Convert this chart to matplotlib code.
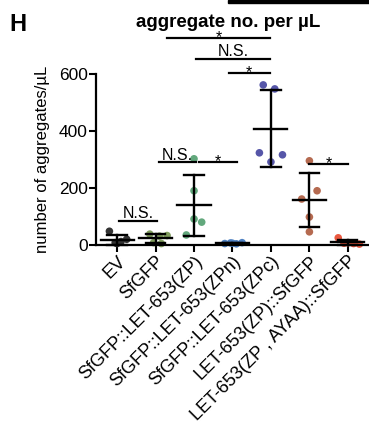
import numpy as np
import matplotlib
matplotlib.use('Agg')
import matplotlib.pyplot as plt
from matplotlib.patches import Rectangle

plt.rcParams['font.family'] = ['Liberation Sans', 'DejaVu Sans']

# groups and values
categories = ['EV', 'SfGFP', 'SfGFP::LET-653(ZP)', 'SfGFP::LET-653(ZPn)',
              'SfGFP::LET-653(ZPc)', 'LET-653(ZP)::SfGFP', 'LET-653(ZP , AYAA)::SfGFP']
colors = ['#333333', '#7f9c5c', '#62a87c', '#4d80c2', '#5656a8', '#b56a50', '#ea5940']

ev = [48, 8, 12, 20, 5]
sfgfp = [38, 31, 33, 8, 5]
zp = [302, 190, 91, 80, 35]
zpn = [5, 7, 4, 8, 6]
zpc = [561, 547, 323, 291, 316]
let_zp = [295, 190, 161, 98, 46]
ayaa = [25, 8, 5, 3, 6]
groups = [ev, sfgfp, zp, zpn, zpc, let_zp, ayaa]

# horizontal scatter of the dots inside each group
jitter = [
    [-0.2, -0.05, 0.1, 0.25, 0.0],
    [-0.15, 0.1, 0.3, -0.05, 0.15],
    [0.0, 0.0, 0.0, 0.2, -0.2],
    [-0.2, -0.05, 0.1, 0.25, 0.0],
    [-0.2, 0.1, -0.3, 0.0, 0.3],
    [0.0, 0.2, -0.2, 0.0, 0.0],
    [-0.25, 0.0, 0.15, 0.3, -0.1],
]

# significance bars: (x start, x end, height, label)
sig = [
    (0.05, 1.05, 85, 'N.S.'),
    (1.08, 2.05, 290, 'N.S.'),
    (2.13, 3.13, 290, '*'),
    (5.0, 6.0, 285, '*'),
    (1.3, 3.97, 726, '*'),
    (2.05, 3.97, 653, 'N.S.'),
    (2.9, 3.97, 604, '*'),
]

fig = plt.figure(figsize=(3.69, 4.29), dpi=100)
ax = fig.add_axes([0.26, 0.429, 0.74, 0.399])

for i, vals in enumerate(groups):
    vals = np.array(vals, dtype=float)
    xs = i + np.array(jitter[i])
    ax.scatter(xs, vals, s=30, color=colors[i], zorder=2, clip_on=False,
               edgecolors='none')
    m = vals.mean()
    sd = vals.std(ddof=1)
    ax.plot([i - 0.43, i + 0.43], [m, m], color='black', lw=1.7, zorder=3,
            clip_on=False)
    ax.plot([i, i], [m - sd, m + sd], color='black', lw=1.7, zorder=3,
            clip_on=False)
    for y in (m - sd, m + sd):
        ax.plot([i - 0.25, i + 0.25], [y, y], color='black', lw=1.7, zorder=3,
                clip_on=False)

for x0, x1, y, lab in sig:
    ax.plot([x0, x1], [y, y], color='black', lw=1.6, clip_on=False)
    if lab == '*':
        ax.text((x0 + x1) / 2, y - 15, lab, ha='center', va='baseline',
                fontsize=11.5)
    else:
        ax.text((x0 + x1) / 2, y + 8, lab, ha='center', va='baseline',
                fontsize=11.5)

ax.set_xlim(-0.55, 6.55)
ax.set_ylim(0, 600)
ax.set_yticks([0, 200, 400, 600])
ax.set_xticks(range(len(categories)))
ax.set_xticklabels(categories, rotation=45, ha='right', rotation_mode='anchor',
                   fontsize=13)
ax.tick_params(axis='y', labelsize=12.5, width=1.5, length=5, pad=1)
ax.tick_params(axis='x', width=1.5, length=5, pad=0.5)
ax.spines['top'].set_visible(False)
ax.spines['right'].set_visible(False)
ax.spines['left'].set_linewidth(1.6)
ax.spines['bottom'].set_linewidth(1.6)
ax.set_ylabel('number of aggregates/µL', fontsize=12, labelpad=6)

fig.text(0.618, 0.948, 'aggregate no. per µL', ha='center', va='center',
         fontsize=13.5, fontweight='bold')
fig.text(0.025, 0.942, 'H', ha='left', va='center', fontsize=17,
         fontweight='bold')
fig.patches.append(Rectangle((0.618, 0.992), 0.382, 0.008,
                             transform=fig.transFigure, color='black'))

fig.savefig('out.png', dpi=100)
